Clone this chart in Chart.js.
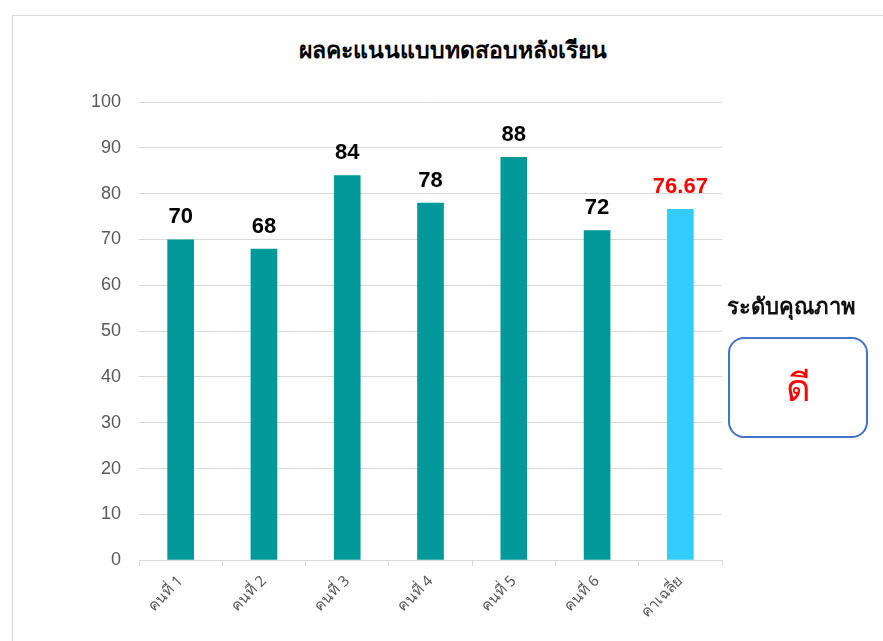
<!DOCTYPE html>
<html><head><meta charset="utf-8">
<script src="https://cdn.jsdelivr.net/npm/chart.js@4.4.1/dist/chart.umd.min.js"></script>
<style>
html,body{margin:0;padding:0;background:#fff;}
#wrap{position:relative;width:883px;height:641px;overflow:hidden;background:#fff;}
#frame{position:absolute;left:12px;top:15px;width:900px;height:700px;border:1px solid #d9d9d9;box-sizing:border-box;}
#title{position:absolute;left:0;width:906px;top:32px;text-align:center;font:600 23px "Noto Sans","DejaVu Sans",sans-serif;color:#000;}
#lvl{position:absolute;left:727px;top:289px;font:bold 22px "Noto Sans","DejaVu Sans",sans-serif;color:#111;white-space:nowrap;}
#box{position:absolute;left:728px;top:337px;width:140px;height:101px;border:2px solid #4472C4;border-radius:16px;box-sizing:border-box;display:flex;align-items:center;justify-content:center;font:normal 38px "Noto Sans","DejaVu Sans",sans-serif;color:#ff0000;}
canvas{position:absolute;left:0;top:0;}
</style></head>
<body><div id="wrap">
<div id="frame"></div>
<div id="title">ผลคะแนนแบบทดสอบหลังเรียน</div>
<canvas id="c" width="883" height="641"></canvas>
<div id="lvl">ระดับคุณภาพ</div>
<div id="box">ดี</div>
</div>
<script>
const categories = ["คนที่ 1","คนที่ 2","คนที่ 3","คนที่ 4","คนที่ 5","คนที่ 6","ค่าเฉลี่ย"];
const scores = [70, 68, 84, 78, 88, 72, 76.67];
const valueLabels = ["70","68","84","78","88","72","76.67"];
const barColors = ["#009999","#009999","#009999","#009999","#009999","#009999","#33CCFF"];
const labelColors = ["#000","#000","#000","#000","#000","#000","#ff0000"];

const labelPlugin = {
  id:'vlabels',
  afterDatasetsDraw(chart){
    const ctx = chart.ctx;
    const meta = chart.getDatasetMeta(0);
    ctx.save();
    ctx.font = 'bold 22px "Liberation Sans", Arial, sans-serif';
    ctx.textAlign = 'center';
    ctx.textBaseline = 'alphabetic';
    meta.data.forEach((bar,i)=>{
      ctx.fillStyle = labelColors[i];
      ctx.fillText(valueLabels[i], bar.x, bar.y - 16);
    });
    ctx.restore();
  }
};

new Chart(document.getElementById('c'), {
  type:'bar',
  data:{labels:categories, datasets:[{data:scores, backgroundColor:barColors, barPercentage:0.32, categoryPercentage:1.0}]},
  options:{
    responsive:false, animation:false,
    layout:{padding:{left:73,right:161,top:102,bottom:14}},
    plugins:{legend:{display:false}, title:{display:false}, tooltip:{enabled:false}},
    scales:{
      y:{min:0,max:100,
        ticks:{stepSize:10,color:'#595959',font:{size:18,family:'"Liberation Sans", Arial, sans-serif'},padding:18},
        grid:{color:'#d9d9d9',drawTicks:false},
        border:{display:false}},
      x:{
        ticks:{color:'#595959',font:{size:15,family:'"Noto Sans","DejaVu Sans",sans-serif'},minRotation:45,maxRotation:45,padding:6},
        grid:{offset:true,drawOnChartArea:false,color:'#d9d9d9',tickLength:6},
        border:{color:'#d9d9d9'}}
    }
  },
  plugins:[labelPlugin]
});
</script>
</body></html>
